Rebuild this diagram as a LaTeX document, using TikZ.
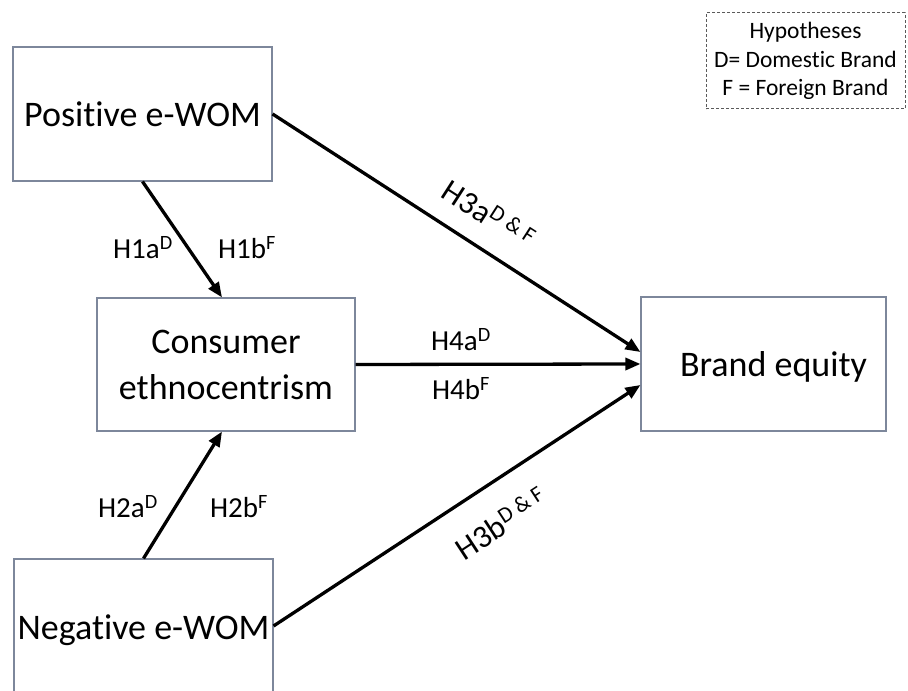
\documentclass[tikz,border=0pt]{standalone}
\usepackage{fontspec}
\setmainfont{Carlito}[Ligatures=NoCommon]
\usetikzlibrary{arrows.meta}
\definecolor{boxline}{RGB}{125,135,155}
\definecolor{dashline}{RGB}{90,90,90}
\tikzset{
  concept/.style={draw=boxline, line width=1.1pt, align=center, inner sep=0pt,
    font=\fontsize{36}{46}\selectfont},
  hyp/.style={line width=3.3pt, -{Triangle[length=15pt,width=12pt]}},
  lbl/.style={font=\fontsize{29}{32}\selectfont, inner sep=0pt},
  rlbl/.style={font=\fontsize{32}{34}\selectfont, inner sep=0pt}
}
\begin{document}
\begin{tikzpicture}[x=1pt,y=1pt]
\clip (0,0) rectangle (908,691);
\fill[white] (0,0) rectangle (908,691);
\node[concept, minimum width=259pt, minimum height=134pt] (pos) at (142.5,577) {Positive e-WOM};
\node[concept, minimum width=258pt, minimum height=133pt] (cons) at (226,326.5) {Consumer\\ethnocentrism};
\node[concept, minimum width=259pt, minimum height=142pt] (neg) at (143.5,61) {Negative e-WOM};
\node[concept, minimum width=245pt, minimum height=134pt, text height=26pt, text depth=0pt] (brand) at (763.5,327) {\hspace*{20pt}Brand equity};
\node[draw=dashline, dash pattern=on 3pt off 2pt, line width=1pt, minimum width=199pt, minimum height=96pt,
  align=center, font=\fontsize{23.5}{28.5}\selectfont, inner sep=0pt] (legend) at (805.5,630)
  {Hypotheses\\D= Domestic Brand\\F = Foreign Brand};
\draw[hyp] (pos.south) -- ([xshift=-4pt]cons.north);
\draw[hyp] (neg.north) -- ([xshift=-4pt]cons.south);
\draw[hyp] (pos.east) -- ([yshift=12pt]brand.west);
\draw[hyp] (cons.east) -- (brand.west);
\draw[hyp] ([yshift=4pt]neg.east) -- ([yshift=-21pt]brand.west);
\node[lbl] (l1a) at (143,443) {H1a\textsuperscript{D}};
\node[lbl] (l1b) at (247,443) {H1b\textsuperscript{F}};
\node[lbl] (l2a) at (128,184) {H2a\textsuperscript{D}};
\node[lbl] (l2b) at (239,184) {H2b\textsuperscript{F}};
\node[lbl] (l4a) at (461,351) {H4a\textsuperscript{D}};
\node[lbl] (l4b) at (461,302) {H4b\textsuperscript{F}};
\node[rlbl, rotate=-32.8] (l3a) at (489,477) {H3a\textsuperscript{D \& F}};
\node[rlbl, rotate=33.2] (l3b) at (501,168) {H3b\textsuperscript{D \& F}};
\end{tikzpicture}
\end{document}
